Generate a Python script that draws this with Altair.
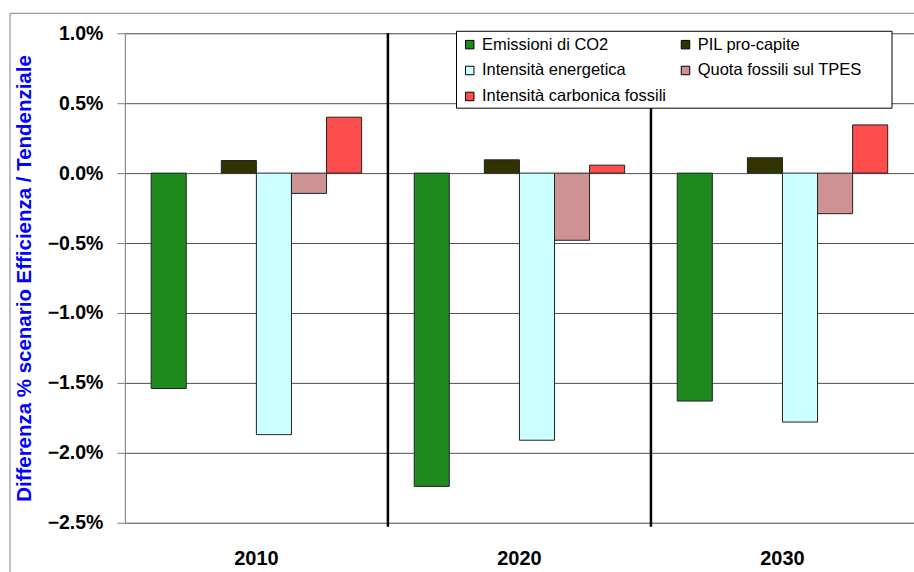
import altair as alt
import pandas as pd

# Differenza % tra scenario Efficienza e scenario Tendenziale, per anno
anni = ["2010", "2020", "2030"]
serie = [
    "Emissioni di CO2",
    "PIL pro-capite",
    "Intensità energetica",
    "Quota fossili sul TPES",
    "Intensità carbonica fossili",
]
emissioni_co2 = [-1.54, -2.24, -1.63]
pil_pro_capite = [0.09, 0.095, 0.11]
intensita_energetica = [-1.87, -1.91, -1.78]
quota_fossili = [-0.145, -0.48, -0.29]
intensita_carbonica = [0.40, 0.057, 0.345]

colori = ["#1e8a1e", "#333300", "#ccffff", "#cf9292", "#ff4d4d"]
# posizioni delle barre nel gruppo: lo slot vuoto lascia uno spazio dopo la prima serie
posti = [serie[0], "", *serie[1:]]
tacche_y = [-0.025, -0.02, -0.015, -0.01, -0.005, 0.0, 0.005, 0.01]

righe = []
for nome, valori in zip(
    serie,
    [emissioni_co2, pil_pro_capite, intensita_energetica, quota_fossili, intensita_carbonica],
):
    for anno, v in zip(anni, valori):
        righe.append({"anno": anno, "serie": nome, "valore": v / 100})
df = pd.DataFrame(righe)

W, H = 790, 490
FONT = "Liberation Sans"
uno = pd.DataFrame({"k": [0]})

cornice = alt.Chart(uno).mark_rect(fill=None, stroke="#808080", strokeWidth=1).encode(
    x=alt.value(-115), x2=alt.value(W + 200), y=alt.value(-20), y2=alt.value(H + 200)
)

barre = alt.Chart(df).mark_bar(stroke="#222222", strokeWidth=1).encode(
    x=alt.X(
        "anno:N",
        sort=anni,
        scale=alt.Scale(paddingInner=0.2, paddingOuter=0.1),
        axis=alt.Axis(
            title=None, orient="bottom", domain=False, ticks=False, labelAngle=0,
            labelFont=FONT, labelFontSize=20, labelFontWeight="bold",
            labelColor="black", labelPadding=26,
        ),
    ),
    xOffset=alt.XOffset(
        "serie:N", scale=alt.Scale(domain=posti, paddingInner=0, paddingOuter=0)
    ),
    y=alt.Y(
        "valore:Q",
        scale=alt.Scale(domain=[-0.025, 0.01], nice=False, zero=False),
        axis=alt.Axis(
            values=tacche_y, format=".1%",
            title="Differenza % scenario Efficienza  / Tendenziale",
            titleFont=FONT, titleFontSize=20.5, titleFontWeight="bold",
            titleColor="#0000ff", titleX=-100, titleY=H / 2,
            titleAngle=270, titleBaseline="middle", titleAlign="center",
            labelFont=FONT, labelFontSize=19.5, labelFontWeight="bold",
            labelColor="black", labelPadding=14,
            tickSize=8, tickColor="#808080", domainColor="#808080",
            grid=True, gridColor="#505050", gridWidth=1,
        ),
    ),
    color=alt.Color(
        "serie:N",
        scale=alt.Scale(domain=serie, range=colori),
        legend=alt.Legend(
            title=None, orient="none", legendX=337, legendY=3, columns=2,
            direction="horizontal",
            symbolType="square", symbolSize=72, symbolStrokeColor="black",
            symbolStrokeWidth=1, labelFont=FONT, labelFontSize=16.5,
            labelColor="black", labelOffset=4, columnPadding=11,
            rowPadding=9, padding=0, labelLimit=300,
        ),
    ),
)

separatori = alt.Chart(pd.DataFrame({"pos": [1, 2]})).mark_rule(
    color="black", strokeWidth=2.5
).encode(
    x=alt.X("pos:Q", scale=alt.Scale(domain=[0, 3]), axis=None),
    y=alt.value(0),
    y2=alt.value(H + 4),
)

riquadro_legenda = alt.Chart(uno).mark_rect(
    fill="white", stroke="black", strokeWidth=1
).encode(x=alt.value(332), x2=alt.value(768), y=alt.value(-2), y2=alt.value(75))

chart = (
    alt.layer(cornice, barre, separatori, riquadro_legenda)
    .resolve_scale(x="independent")
    .properties(
        width=W, height=H,
        autosize=alt.AutoSizeParams(type="none"),
        padding={"left": 125, "top": 33, "right": 0, "bottom": 49},
        background="white",
    )
    .configure_view(stroke=None)
    .configure(font=FONT)
)

chart.save("out.html", embed_options={"renderer": "svg", "actions": False})
